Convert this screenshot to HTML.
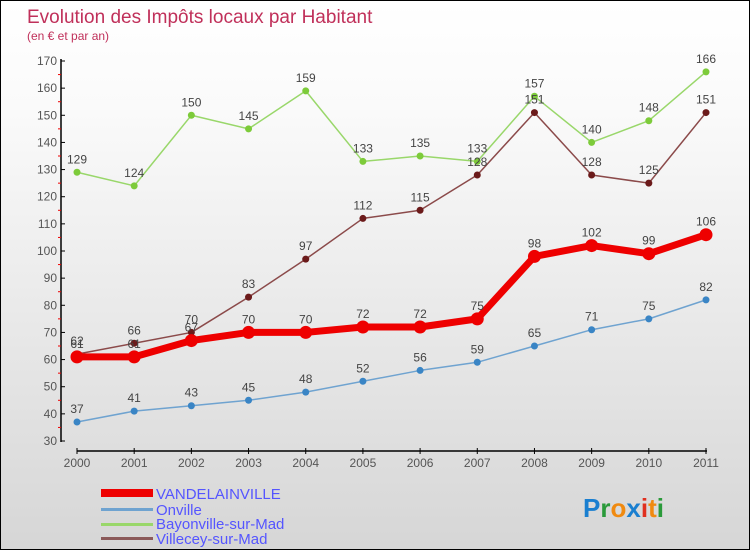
<!DOCTYPE html>
<html><head><meta charset="utf-8"><style>
body{margin:0}
#c{width:750px;height:550px;position:relative;box-sizing:border-box;border:1px solid #000;background:linear-gradient(#fff,#fafafa 20%,#d6d6d6);font-family:"Liberation Sans",sans-serif;overflow:hidden}
svg text{font-family:"Liberation Sans",sans-serif}
</style></head><body>
<div id="c">
<svg width="750" height="550" id="s">
<text x="26" y="22" font-size="19" fill="#c0305a">Evolution des Impôts locaux par Habitant</text>
<text x="26" y="39" font-size="12" fill="#c0305a">(en € et par an)</text>
<g id="axes"></g><g id="series"></g>
<g font-size="15">
<rect x="100" y="488" width="52" height="8" fill="#e00"/>
<text x="155" y="498" fill="#55f">VANDELAINVILLE</text>
<rect x="100" y="507" width="52" height="3" fill="#6fa3d0"/>
<text x="155" y="514" fill="#55f">Onville</text>
<rect x="100" y="522" width="52" height="3" fill="#99d76a"/>
<text x="155" y="528" fill="#55f">Bayonville-sur-Mad</text>
<rect x="100" y="536" width="52" height="3" fill="#8b5a5a"/>
<text x="155" y="543" fill="#55f">Villecey-sur-Mad</text>
</g>
<text x="582" y="516" font-size="26" font-weight="bold"><tspan fill="#1a7fd0">P</tspan><tspan fill="#2a9a3a">r</tspan><tspan fill="#f08a10">o</tspan><tspan fill="#1a7fd0">x</tspan><tspan fill="#e03020">i</tspan><tspan fill="#f08a10">t</tspan><tspan fill="#2a9a3a">i</tspan></text>
</svg></div>
<script>
const years=[2000,2001,2002,2003,2004,2005,2006,2007,2008,2009,2010,2011];
const yTicks=[30,40,50,60,70,80,90,100,110,120,130,140,150,160,170];
const vandelainville=[61,61,67,70,70,72,72,75,98,102,99,106];
const onville=[37,41,43,45,48,52,56,59,65,71,75,82];
const bayonville=[129,124,150,145,159,133,135,133,157,140,148,166];
const villecey=[62,66,70,83,97,112,115,128,151,128,125,151];
const NS="http://www.w3.org/2000/svg";
const X=i=>76+i*(705-76)/(years.length-1);
const Y=v=>440-(v-30)*(380/140);
function el(p,t,a){const e=document.createElementNS(NS,t);for(const k in a)e.setAttribute(k,a[k]);p.appendChild(e);return e;}
const ax=document.getElementById('axes');
let l=el(ax,'line',{x1:60,y1:58,x2:60,y2:441,stroke:'#000','stroke-width':1.5});


l=el(ax,'line',{x1:76,y1:450,x2:706,y2:450,stroke:'#000','stroke-width':1.5});


yTicks.forEach((v,i)=>{
  el(ax,'line',{x1:60,y1:Y(v),x2:64,y2:Y(v),stroke:'#000'});
  if(i<yTicks.length-1)el(ax,'line',{x1:57,y1:Y(v+5),x2:60,y2:Y(v+5),stroke:'#e00'});
  const t=el(ax,'text',{x:56,y:Y(v)+4,'font-size':12,fill:'#555','text-anchor':'end'});
  t.textContent=v;
  
  
});
years.forEach((y,i)=>{
  el(ax,'line',{x1:X(i),y1:447,x2:X(i),y2:453,stroke:'#000'});
  const t=el(ax,'text',{x:X(i),y:466,'font-size':12,fill:'#555','text-anchor':'middle'});
  t.textContent=y;
  
  
});
const sg=document.getElementById('series');
function draw(data,color,dot,w,r,name){
  const g=el(sg,'g',{});
  
  
  el(g,'polyline',{points:data.map((v,i)=>X(i)+','+Y(v)).join(' '),fill:'none',stroke:color,'stroke-width':w,'stroke-linejoin':'round'});
  data.forEach((v,i)=>{
    const c=el(g,'circle',{cx:X(i),cy:Y(v),r:r,fill:dot});
    
    
    const t=el(g,'text',{x:X(i),y:Y(v)-9,'font-size':12,fill:'#444','text-anchor':'middle'});
    t.textContent=v;
    
    
  });
}
draw(bayonville,'#99d76a','#7dcb3a',1.5,3.5,'bayonville');
draw(villecey,'#8b4a4a','#6b1a1a',1.5,3.5,'villecey');
draw(onville,'#6fa3d0','#3a85c5',1.5,3.5,'onville');
draw(vandelainville,'#ee0000','#ee0000',7,6.5,'vandelainville');
</script>
</body></html>
